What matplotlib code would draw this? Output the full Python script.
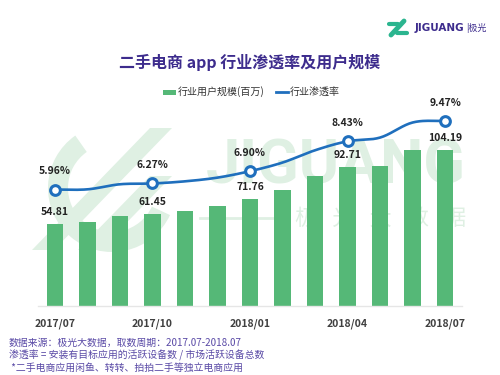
import numpy as np
import matplotlib
matplotlib.use("Agg")
import matplotlib.pyplot as plt
from matplotlib.patches import Rectangle, Wedge, Polygon

plt.rcParams['font.family'] = ['Noto Sans CJK SC', 'DejaVu Sans']

# ---- data ----
months = ["2017/07", "2017/08", "2017/09", "2017/10", "2017/11", "2017/12", "2018/01",
          "2018/02", "2018/03", "2018/04", "2018/05", "2018/06", "2018/07"]
users = [54.81, 55.9, 60.0, 61.45, 63.7, 66.6, 71.76, 77.8, 86.7, 92.71, 93.8, 104.3, 104.19]
rate = [5.96, 5.97, 6.23, 6.27, 6.38, 6.57, 6.90, 7.34, 7.97, 8.43, 8.62, 9.39, 9.47]
label_idx = [0, 3, 6, 9, 12]
tick_labels = ["2017/07", "2017/10", "2018/01", "2018/04", "2018/07"]
title = "二手电商 app 行业渗透率及用户规模"
legend_bar = "行业用户规模(百万)"
legend_line = "行业渗透率"
notes = ["数据来源：极光大数据，取数周期：2017.07-2018.07",
         "渗透率 = 安装有目标应用的活跃设备数 / 市场活跃设备总数",
         " *二手电商应用闲鱼、转转、拍拍二手等独立电商应用"]

GREEN = "#55b877"
BLUE = "#1f6fbd"
PURPLE = "#3d2c8d"
NOTE = "#5a4aa6"
WM = "#dff0e3"

W, H = 500, 375
fig = plt.figure(figsize=(5, 3.75), dpi=100)

# background / decoration axes in pixel coords
bg = fig.add_axes([0, 0, 1, 1], zorder=0)
bg.set_xlim(0, W); bg.set_ylim(H, 0); bg.axis('off')

# watermark
bg.add_patch(Wedge((112, 188), 64, 25, 235, width=20, color=WM, lw=0))
bg.add_patch(Polygon([[32, 250], [150, 128], [172, 128], [54, 250]], closed=True, color=WM, lw=0))
bg.add_patch(Polygon([[78, 250], [150, 176], [172, 176], [100, 250]], closed=True, color=WM, lw=0))
bg.text(336, 166, "JIGUANG", fontsize=44, fontweight='bold', color=WM, ha='center', va='center',
        family=['Roboto', 'DejaVu Sans'])
bg.plot([200, 285], [218, 218], color=WM, lw=2)
bg.text(381, 218, "极   光   大   数   据", fontsize=16, color=WM, ha='center', va='center')

# main axes
left, right = 38 / W, 462 / W
bottom = (H - 306) / H
top_px = 110
ax = fig.add_axes([left, bottom, right - left, (306 - top_px) / H], zorder=1)
ax.patch.set_visible(False)
x = np.arange(len(months))
ax.bar(x, users, width=0.5, color=GREEN, zorder=2)
ax.set_xlim(-0.52, 12.52)
ax.set_ylim(0, (306 - top_px) / 1.496)
for s in ['top', 'right', 'left']:
    ax.spines[s].set_visible(False)
ax.spines['bottom'].set_color('#e6e6e6')
ax.spines['bottom'].set_linewidth(1)
ax.set_yticks([])
ax.set_xticks([x[i] for i in label_idx])
ax.set_xticklabels(tick_labels, fontsize=7.5, fontweight='bold', color='#404040')
ax.tick_params(axis='x', length=0, pad=9)

for i in label_idx:
    ax.annotate(f"{users[i]:.2f}", (x[i], users[i]), xytext=(0, 8.6), textcoords='offset points',
                ha='center', va='center', fontsize=7.5, fontweight='bold', color='#222222', zorder=5)

# line on twin axis
ax2 = ax.twinx()
ax2.set_ylim(0, (306 - top_px) / 19.54)
ax2.set_yticks([])
for s in ax2.spines.values():
    s.set_visible(False)

# smooth curve (Catmull-Rom through the monthly points)
xs, ys = [], []
pts = np.array(rate, dtype=float)
n = len(pts)
for k in range(n - 1):
    p0 = pts[max(k - 1, 0)]; p1 = pts[k]; p2 = pts[k + 1]; p3 = pts[min(k + 2, n - 1)]
    c1 = p1 + (p2 - p0) / 6.0
    c2 = p2 - (p3 - p1) / 6.0
    t = np.linspace(0, 1, 20)
    yy = (1 - t) ** 3 * p1 + 3 * (1 - t) ** 2 * t * c1 + 3 * (1 - t) * t ** 2 * c2 + t ** 3 * p2
    xx = k + t
    xs.extend(xx); ys.extend(yy)
ax2.plot(xs, ys, color=BLUE, lw=1.9, zorder=3)
ax2.plot([x[i] for i in label_idx], [rate[i] for i in label_idx], 'o', ms=7, mfc='white',
         mec=BLUE, mew=2.2, zorder=4)
for i in label_idx:
    ax2.annotate(f"{rate[i]:.2f}%", (x[i], rate[i]), xytext=(0, 13), textcoords='offset points',
                 ha='center', va='center', fontsize=7.5, fontweight='bold', color='#222222', zorder=5)

# overlay (title, legend, logo, notes)
ov = fig.add_axes([0, 0, 1, 1], zorder=3)
ov.set_xlim(0, W); ov.set_ylim(H, 0); ov.axis('off')
ov.text(250, 62, title, fontsize=11.5, fontweight='bold', color=PURPLE, ha='center', va='center')

ov.add_patch(Rectangle((163, 89.5), 13, 5, color=GREEN, lw=0))
ov.text(178, 92, legend_bar, fontsize=7.2, color='#333333', ha='left', va='center')
ov.plot([276, 288], [92, 92], color=BLUE, lw=2)
ov.text(290, 92, legend_line, fontsize=7.2, color='#333333', ha='left', va='center')

# logo
ov.plot([391, 404], [35, 21], color='#2bb58f', lw=3.5, solid_capstyle='round')
ov.plot([389, 398], [24, 24], color='#2bb58f', lw=3, solid_capstyle='round')
ov.plot([397, 407], [33, 33], color='#2bb58f', lw=3, solid_capstyle='round')
ov.text(415, 28, "JIGUANG", fontsize=7.5, fontweight='bold', color=PURPLE, ha='left', va='center',
        family=['DejaVu Sans'])
ov.text(466, 28, "|极光", fontsize=6.5, color=PURPLE, ha='left', va='center')

for j, t in enumerate(notes):
    ov.text(9, 343 + j * 12.2, t, fontsize=7.1, color=NOTE, ha='left', va='center', style='italic')

fig.savefig("out.png", dpi=100)
